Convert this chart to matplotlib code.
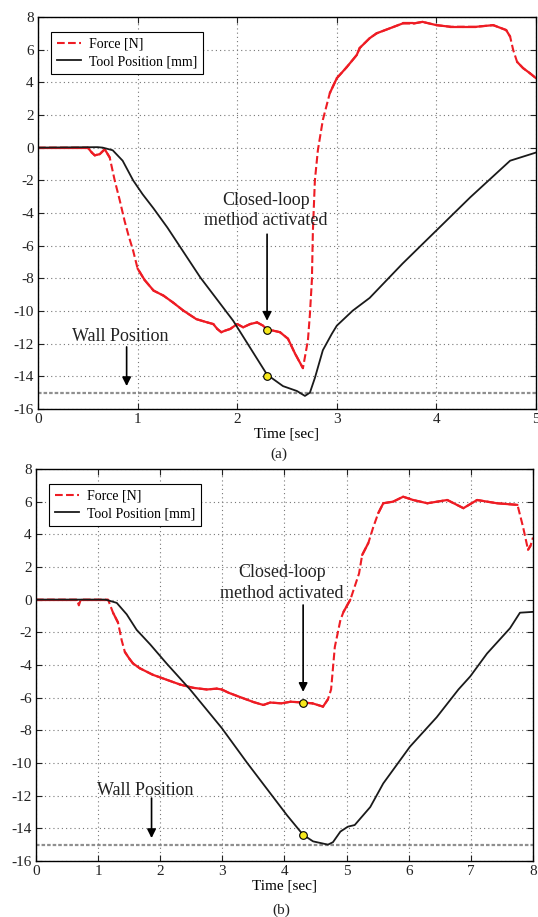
# force / tool position plots, (a) 5 s run and (b) 8 s run
import numpy as np
import matplotlib
matplotlib.use("Agg")
import matplotlib.pyplot as plt
from matplotlib.collections import LineCollection

plt.rcParams['font.family'] = ['Liberation Serif', 'DejaVu Serif']
plt.rcParams['axes.unicode_minus'] = False

RED = '#ee1c24'
BLACK = '#1a1a1a'
YELLOW = '#f7e81c'

# ---- panel (a) ----
t_force_a = [0, 0.5, 0.54, 0.57, 0.62, 0.67, 0.72, 0.77, 0.82, 0.87, 0.91, 0.955, 1.0,
             1.07, 1.16, 1.26, 1.36, 1.46, 1.59, 1.70, 1.76, 1.80, 1.84, 1.88, 1.93,
             2.0, 2.06, 2.13, 2.2, 2.26, 2.30, 2.36, 2.43, 2.51, 2.58, 2.66, 2.71,
             2.73, 2.75, 2.76, 2.78, 2.81, 2.86, 2.93, 3.0, 3.10, 3.2, 3.23, 3.33,
             3.4, 3.53, 3.66, 3.77, 3.86, 4.0, 4.14, 4.27, 4.4, 4.57, 4.7, 4.74,
             4.77, 4.81, 4.87, 4.94, 5.0]
force_a = [0, 0, -0.3, -0.47, -0.4, -0.1, -0.6, -2.0, -3.2, -4.5, -5.4, -6.3, -7.4,
           -8.1, -8.75, -9.06, -9.5, -9.98, -10.5, -10.7, -10.8, -11.1, -11.3, -11.2, -11.1,
           -10.8, -11.0, -10.8, -10.7, -10.9, -11.15, -11.2, -11.3, -11.7, -12.6, -13.5, -11.8,
           -10.2, -8.1, -5.1, -2.0, -0.16, 1.7, 3.34, 4.25, 4.93, 5.67, 6.1, 6.7,
           7.0, 7.3, 7.6, 7.6, 7.7, 7.5, 7.4, 7.4, 7.4, 7.5, 7.2, 6.8,
           6.0, 5.25, 4.87, 4.55, 4.25]

t_pos_a = [0, 0.6, 0.65, 0.75, 0.85, 0.955, 1.05, 1.16, 1.3, 1.63, 1.96, 2.30, 2.46,
           2.6, 2.68, 2.73, 2.78, 2.86, 2.95, 3.0, 3.16, 3.33, 3.66, 4.0, 4.34, 4.74, 5.0]
pos_a = [0, 0.03, 0, -0.16, -0.8, -2.0, -2.85, -3.72, -4.9, -7.95, -10.6, -13.9, -14.6,
         -14.9, -15.2, -15.0, -14.1, -12.4, -11.4, -10.9, -9.98, -9.2, -7.1, -5.07, -3.04, -0.8, -0.3]

switch_a = (2.30, -11.15, -14.0)   # time, force, position at activation

# ---- panel (b) ----
t_force_b = [0, 0.66, 0.69, 0.72, 1.16, 1.24, 1.32, 1.38, 1.43, 1.5, 1.56, 1.67, 1.88,
             2.1, 2.32, 2.53, 2.75, 2.91, 2.99, 3.1, 3.28, 3.5, 3.66, 3.77, 3.95, 4.1,
             4.3, 4.45, 4.62, 4.7, 4.75, 4.81, 4.9, 4.95, 5.06, 5.13, 5.2, 5.25, 5.35,
             5.43, 5.51, 5.59, 5.75, 5.91, 6.07, 6.3, 6.62, 6.88, 7.1, 7.42, 7.75,
             7.84, 7.92, 7.96, 8.0]
force_b = [0, 0, -0.35, 0, 0, -0.8, -1.4, -2.5, -3.2, -3.6, -3.9, -4.2, -4.6,
           -4.9, -5.2, -5.4, -5.5, -5.45, -5.5, -5.7, -5.96, -6.27, -6.45, -6.3, -6.35, -6.25,
           -6.3, -6.35, -6.55, -6.1, -5.5, -2.9, -1.25, -0.75, 0, 0.8, 1.6, 2.73, 3.47,
           4.45, 5.3, 5.9, 6.0, 6.3, 6.1, 5.9, 6.1, 5.6, 6.1, 5.9, 5.8,
           4.45, 3.05, 3.3, 3.8]

t_pos_b = [0, 1.1, 1.14, 1.3, 1.46, 1.62, 1.84, 2.1, 2.48, 2.99, 3.4, 3.77, 4.04, 4.3,
           4.46, 4.7, 4.78, 4.9, 5.02, 5.13, 5.38, 5.59, 6.02, 6.45, 6.8, 6.99, 7.26,
           7.63, 7.79, 8.0]
pos_b = [0, 0, -0.02, -0.2, -0.9, -1.85, -2.75, -3.9, -5.5, -7.86, -10.0, -11.85, -13.2, -14.4,
         -14.8, -15.0, -14.85, -14.2, -13.9, -13.8, -12.7, -11.25, -9.0, -7.2, -5.5, -4.7, -3.3,
         -1.75, -0.8, -0.75]

switch_b = (4.30, -6.3, -14.4)

WALL = -15
y_ticks = list(range(-16, 9, 2))


def draw_force(ax, t, f):
    ax.plot(t, f, '--', color=RED, lw=1.5, label='Force [N]')
    # the real trace is noisy, so the flat parts look solid: overlay them
    xy = np.column_stack([t, f])
    pts = ax.transData.transform(xy)
    d = np.diff(pts, axis=0)
    slope = np.abs(d[:, 1]) / np.maximum(np.abs(d[:, 0]), 1e-9)
    segs = np.stack([xy[:-1], xy[1:]], axis=1)[slope < 2.5]
    ax.add_collection(LineCollection(segs, colors=RED, linewidths=1.6, capstyle='round'))


def setup_panel(ax, xmax):
    ax.set_xlim(0, xmax)
    ax.set_ylim(-16, 8)
    ax.set_xticks(range(0, xmax + 1))
    ax.set_yticks(y_ticks)
    ax.grid(True, linestyle=(0, (1, 2.8)), color='#777777', lw=0.8)
    ax.tick_params(direction='in', top=True, right=True, length=4, width=0.8,
                   labelsize=11, pad=3, colors='#222222')
    for s in ax.spines.values():
        s.set_color('black')
        s.set_linewidth(1.0)
    ax.set_xlabel('Time [sec]', fontsize=11, labelpad=1)
    ax.axhline(WALL, color='#8f8f8f', lw=1.6, dashes=(1.6, 0.9), zorder=1.5)


def finish_panel(ax, switch, text_xy, arrow_top, arrow_tip, wall_txt, wall_arrow):
    t0, f0, p0 = switch
    ax.plot([t0, t0], [f0, p0], 'o', ls='none', ms=5.5, mfc=YELLOW, mec='black',
            mew=0.8, zorder=5)
    ax.text(text_xy[0], text_xy[1], 'Closed-loop\nmethod activated', ha='center',
            va='center', fontsize=13, linespacing=1.25, color='#222222')
    ax.annotate('', xy=(t0, arrow_tip), xytext=(t0, arrow_top),
                arrowprops=dict(arrowstyle='-|>', color='black', lw=1.2,
                                mutation_scale=13, shrinkA=0, shrinkB=0))
    ax.text(wall_txt[0], wall_txt[1], 'Wall Position', ha='center', va='center',
            fontsize=13, color='#222222')
    ax.annotate('', xy=(wall_arrow[0], wall_arrow[2]), xytext=(wall_arrow[0], wall_arrow[1]),
                arrowprops=dict(arrowstyle='-|>', color='black', lw=1.2,
                                mutation_scale=13, shrinkA=0, shrinkB=0))
    leg = ax.legend(loc='upper left', bbox_to_anchor=(0.027, 0.962), borderaxespad=0,
                    fontsize=10, fancybox=False, framealpha=1, edgecolor='black',
                    handlelength=1.7, handletextpad=0.6, labelspacing=0.35)
    leg.get_frame().set_linewidth(0.8)
    leg.set_zorder(6)


fig = plt.figure(figsize=(5.38, 9.17), dpi=100)
ax1 = fig.add_axes([0.0706, 0.554, 0.9257, 0.4275])
ax2 = fig.add_axes([0.0669, 0.0611, 0.9238, 0.4275])

setup_panel(ax1, 5)
draw_force(ax1, t_force_a, force_a)
ax1.plot(t_pos_a, pos_a, '-', color=BLACK, lw=1.3, label='Tool Position [mm]')
finish_panel(ax1, switch_a, (2.29, -3.84), -5.3, -10.6, (0.83, -11.57), (0.89, -12.2, -14.6))

setup_panel(ax2, 8)
draw_force(ax2, t_force_b, force_b)
ax2.plot(t_pos_b, pos_b, '-', color=BLACK, lw=1.3, label='Tool Position [mm]')
finish_panel(ax2, switch_b, (3.96, 1.02), -0.33, -5.65, (1.76, -11.66), (1.86, -12.15, -14.6))

fig.text(0.519, 1 - 454 / 917, '(a)', ha='center', va='center', fontsize=11, color='#222222')
fig.text(0.522, 1 - 910 / 917, '(b)', ha='center', va='center', fontsize=11, color='#222222')

fig.savefig('out.png', dpi=100)
